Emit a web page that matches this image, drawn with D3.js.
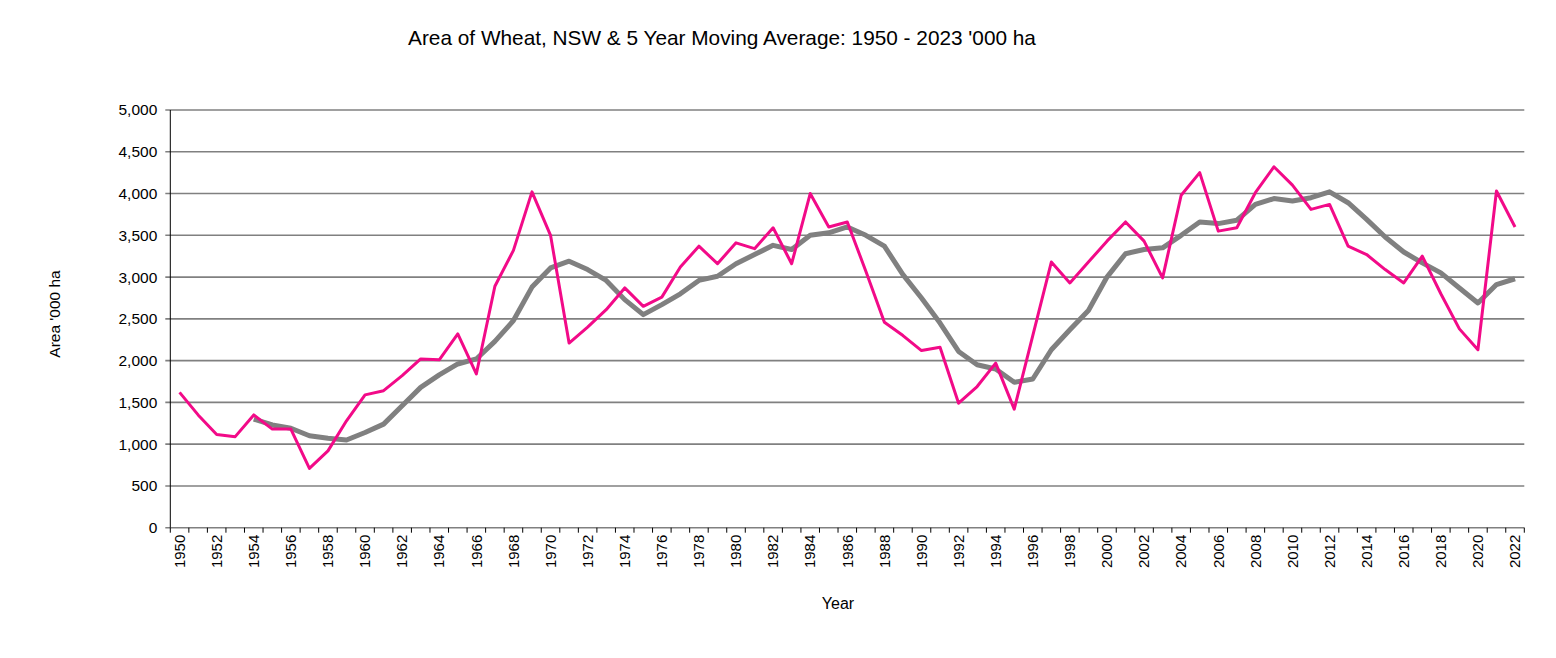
<!DOCTYPE html>
<html>
<head>
<meta charset="utf-8">
<script src="https://cdn.jsdelivr.net/npm/d3@7"></script>
<style>
  body { margin: 0; background: #fff; }
  text { font-family: "Liberation Sans", Arial, sans-serif; fill: #000; }
</style>
</head>
<body>
<div id="chart"></div>
<script>
// years 1950 - 2022
const years = d3.range(1950, 2023);

// area of wheat, NSW ('000 ha)
const area = [
  1620, 1350, 1115, 1090, 1350, 1180, 1180, 710, 920, 1280,
  1590, 1640, 1820, 2020, 2010, 2320, 1840, 2890, 3320, 4020,
  3500, 2210, 2400, 2610, 2870, 2650, 2760, 3120, 3370, 3160,
  3410, 3340, 3590, 3160, 4000, 3600, 3660, 3070, 2460, 2300,
  2120, 2160, 1490, 1690, 1970, 1420, 2300, 3180, 2930, 3180,
  3430, 3660, 3430, 2990, 3980, 4250, 3550, 3590, 4010, 4320,
  4100, 3810, 3870, 3370, 3270, 3090, 2930, 3250, 2800, 2380,
  2130, 4030, 3600
];

// 5 year moving average, starts at 1954
const movingAvg = [
  null, null, null, null, 1300, 1230, 1190, 1100, 1070, 1050,
  1140, 1240, 1460, 1680, 1830, 1960, 2020, 2230, 2480, 2880,
  3110, 3190, 3090, 2960, 2730, 2550, 2670, 2800, 2960, 3010,
  3160, 3270, 3380, 3330, 3500, 3530, 3600, 3500, 3370, 3030,
  2750, 2450, 2110, 1950, 1900, 1740, 1780, 2130, 2370, 2600,
  3000, 3280, 3330, 3350, 3500, 3660, 3640, 3680, 3870, 3940,
  3910, 3950, 4020, 3890, 3690, 3480, 3300, 3170, 3050, 2870,
  2690, 2910, 2980
];

const yTicks = d3.range(0, 5001, 500);
const xLabelYears = years.filter(y => y % 2 === 0);

const width = 1556, height = 658;
const plotL = 170.3, plotR = 1524.3, plotT = 110, plotB = 527.7;

const svg = d3.select("#chart").append("svg")
  .attr("width", width)
  .attr("height", height);

svg.append("rect")
  .attr("width", "100%")
  .attr("height", "100%")
  .attr("fill", "white");

const x = d3.scaleBand().domain(years).range([plotL, plotR]);
const y = d3.scaleLinear().domain([0, 5000]).range([plotB, plotT]);
const cx = d => x(d) + x.bandwidth() / 2;

// gridlines (the zero line doubles as the x axis)
svg.append("g")
  .selectAll("line")
  .data(yTicks)
  .join("line")
  .attr("x1", plotL - 5)
  .attr("x2", plotR)
  .attr("y1", d => y(d))
  .attr("y2", d => y(d))
  .attr("stroke", "#808080")
  .attr("stroke-width", 1.6);

// y axis labels
svg.append("g")
  .selectAll("text")
  .data(yTicks)
  .join("text")
  .attr("x", plotL - 13)
  .attr("y", d => y(d))
  .attr("dy", "0.35em")
  .attr("text-anchor", "end")
  .attr("font-size", 15.5)
  .text(d => d3.format(",")(d));

// y axis line
svg.append("line")
  .attr("x1", plotL).attr("x2", plotL)
  .attr("y1", plotT).attr("y2", plotB)
  .attr("stroke", "#000")
  .attr("stroke-width", 1);

// x tick marks sit between categories
const tickPos = years.map(d => x(d)).concat([plotR]);
svg.append("g")
  .selectAll("line")
  .data(tickPos)
  .join("line")
  .attr("x1", d => d).attr("x2", d => d)
  .attr("y1", plotB).attr("y2", plotB + 5)
  .attr("stroke", "#000")
  .attr("stroke-width", 1);

// x labels, rotated
svg.append("g")
  .selectAll("text")
  .data(xLabelYears)
  .join("text")
  .attr("transform", d => `translate(${cx(d)},${plotB + 7}) rotate(-90)`)
  .attr("dy", "0.35em")
  .attr("text-anchor", "end")
  .attr("font-size", 15)
  .text(d => d);

const line = d3.line()
  .defined(d => d[1] != null)
  .x(d => cx(d[0]))
  .y(d => y(d[1]));

// moving average line
svg.append("path")
  .datum(years.map((yr, i) => [yr, movingAvg[i]]))
  .attr("fill", "none")
  .attr("stroke", "#808080")
  .attr("stroke-width", 5)
  .attr("stroke-linejoin", "round")
  .attr("d", line);

// area line
svg.append("path")
  .datum(years.map((yr, i) => [yr, area[i]]))
  .attr("fill", "none")
  .attr("stroke", "#F20A88")
  .attr("stroke-width", 3)
  .attr("stroke-linejoin", "round")
  .attr("d", line);

// titles
svg.append("text")
  .attr("x", 722)
  .attr("y", 45)
  .attr("text-anchor", "middle")
  .attr("font-size", 20.8)
  .text("Area of Wheat, NSW & 5 Year Moving Average: 1950 - 2023 '000 ha");

svg.append("text")
  .attr("transform", "translate(55,314) rotate(-90)")
  .attr("dy", "0.35em")
  .attr("text-anchor", "middle")
  .attr("font-size", 15.5)
  .text("Area '000 ha");

svg.append("text")
  .attr("x", 838)
  .attr("y", 609)
  .attr("text-anchor", "middle")
  .attr("font-size", 16)
  .text("Year");
</script>
</body>
</html>
